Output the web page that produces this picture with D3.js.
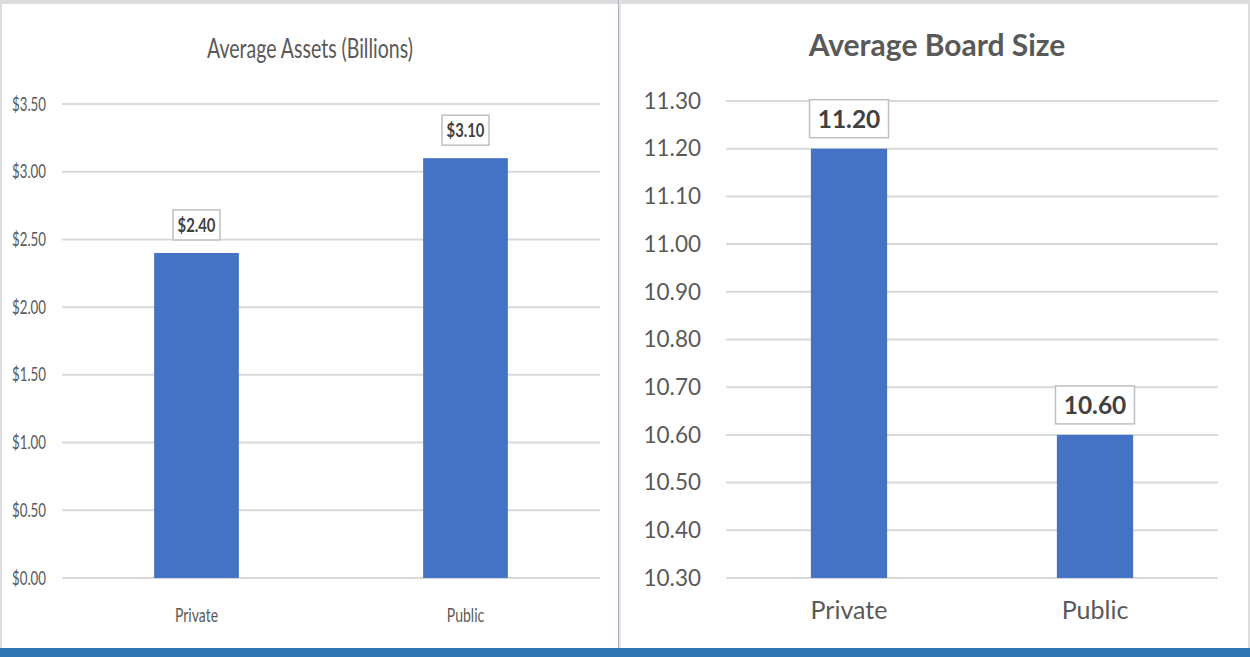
<!DOCTYPE html>
<html>
<head>
<meta charset="utf-8">
<script src="https://cdn.jsdelivr.net/npm/d3@7"></script>
<style>
  body { margin: 0; background: #fff; }
  svg { display: block; }
</style>
</head>
<body>
<div id="chart"></div>
<script>
// data
var categories = ["Private", "Public"];
var assetValues = [2.40, 3.10];
var assetTicks = [0, 0.5, 1.0, 1.5, 2.0, 2.5, 3.0, 3.5];
var boardValues = [11.20, 10.60];
var boardTicks = [10.3, 10.4, 10.5, 10.6, 10.7, 10.8, 10.9, 11.0, 11.1, 11.2, 11.3];

var W = 1250, H = 657;
var svg = d3.select("#chart").append("svg")
    .attr("width", W)
    .attr("height", H);

// frame
svg.append("rect").attr("x", 0).attr("y", 0).attr("width", W).attr("height", 4).attr("fill", "#dcdcdc");
svg.append("rect").attr("x", 0).attr("y", 0).attr("width", 2).attr("height", H).attr("fill", "#dcdcdc");
svg.append("rect").attr("x", W - 2).attr("y", 0).attr("width", 2).attr("height", H).attr("fill", "#dcdcdc");
svg.append("rect").attr("x", 618).attr("y", 0).attr("width", 1).attr("height", 650).attr("fill", "#a9b4c4");
svg.append("rect").attr("x", 619).attr("y", 0).attr("width", 2).attr("height", 650).attr("fill", "#e4e4e4");
svg.append("rect").attr("x", 0).attr("y", 648).attr("width", W).attr("height", 9).attr("fill", "#2e75b6");

// squeeze text horizontally (the original uses a condensed face)
function squeeze(sel, k) {
  if (!k || k === 1) return;
  sel.each(function(){
    var w = this.getComputedTextLength();
    d3.select(this).attr("textLength", w * k).attr("lengthAdjust", "spacingAndGlyphs");
  });
}

function drawChart(opt) {
  var g = svg.append("g");

  var y = d3.scaleLinear().domain(opt.domain).range([opt.bottom, opt.top]);
  var x = d3.scaleBand().domain(categories).range([opt.left, opt.right])
      .paddingInner(opt.pad).paddingOuter(opt.pad / 2);

  // gridlines
  g.selectAll(".grid").data(opt.ticks).enter().append("line")
    .attr("x1", opt.left).attr("x2", opt.right)
    .attr("y1", function(d){ return y(d); })
    .attr("y2", function(d){ return y(d); })
    .attr("stroke", "#d9d9d9")
    .attr("stroke-width", 2);

  // y axis labels
  var yAxis = d3.axisLeft(y).tickValues(opt.ticks).tickFormat(opt.tickFmt).tickSize(0).tickPadding(opt.tickPad);
  var ya = g.append("g").attr("transform", "translate(" + opt.left + ",0)").call(yAxis);
  ya.select(".domain").remove();
  ya.selectAll("text")
    .attr("fill", "#595959")
    .style("font-family", opt.font)
    .style("font-size", opt.tickSize + "px")
    .call(squeeze, opt.tickSq);

  // x axis labels
  var xAxis = d3.axisBottom(x).tickSize(0).tickPadding(opt.xPad);
  var xa = g.append("g").attr("transform", "translate(0," + opt.bottom + ")").call(xAxis);
  xa.select(".domain").remove();
  xa.selectAll("text")
    .attr("fill", "#595959")
    .style("font-family", opt.font)
    .style("font-size", opt.xSize + "px")
    .call(squeeze, opt.tickSq);

  // bars
  g.selectAll(".bar").data(opt.values).enter().append("rect")
    .attr("x", function(d, i){ return x(categories[i]); })
    .attr("y", function(d){ return y(d); })
    .attr("width", x.bandwidth())
    .attr("height", function(d){ return opt.bottom - y(d); })
    .attr("fill", "#4472c4");

  // data labels with boxes
  var lab = g.selectAll(".lab").data(opt.values).enter().append("g")
    .attr("transform", function(d, i){
      return "translate(" + (x(categories[i]) + x.bandwidth() / 2) + "," + (y(d) - opt.labGap) + ")";
    });
  lab.append("rect")
    .attr("x", -opt.boxW / 2).attr("y", -opt.boxH)
    .attr("width", opt.boxW).attr("height", opt.boxH)
    .attr("fill", "#fff")
    .attr("stroke", "#bfbfbf")
    .attr("stroke-width", 1.5);
  lab.append("text")
    .attr("text-anchor", "middle")
    .attr("y", -opt.boxH / 2)
    .attr("dy", "0.36em")
    .attr("fill", "#404040")
    .style("font-family", opt.font)
    .style("font-weight", "bold")
    .style("font-size", opt.labSize + "px")
    .text(opt.labFmt)
    .call(squeeze, opt.labSq);

  // title
  g.append("text")
    .attr("x", opt.titleX).attr("y", opt.titleY)
    .attr("text-anchor", "middle")
    .attr("fill", "#595959")
    .style("font-family", opt.font)
    .style("font-weight", opt.titleWeight)
    .style("font-size", opt.titleSize + "px")
    .text(opt.title)
    .call(squeeze, opt.titleSq);
}

// left: average assets
drawChart({
  values: assetValues, ticks: assetTicks, domain: [0, 3.5],
  left: 62, right: 600, top: 104, bottom: 578, pad: 0.685,
  tickFmt: function(d){ return "$" + d.toFixed(2); }, tickPad: 16, xPad: 30,
  font: "Lato, 'Open Sans', sans-serif", tickSize: 19, xSize: 20, tickSq: 0.7,
  labFmt: function(d){ return "$" + d.toFixed(2); }, labSize: 19, labSq: 0.78, boxW: 47, boxH: 30, labGap: 13,
  title: "Average Assets (Billions)", titleX: 310, titleY: 58, titleSize: 26, titleSq: 0.75, titleWeight: "normal"
});

// right: average board size
drawChart({
  values: boardValues, ticks: boardTicks, domain: [10.3, 11.3],
  left: 726, right: 1218, top: 101, bottom: 578, pad: 0.69,
  tickFmt: function(d){ return d.toFixed(2); }, tickPad: 25, xPad: 23,
  font: "Lato, 'Open Sans', sans-serif", tickSize: 22.5, xSize: 25, tickSq: 1,
  labFmt: function(d){ return d.toFixed(2); }, labSize: 24.5, labSq: 1, boxW: 79, boxH: 38, labGap: 11,
  title: "Average Board Size", titleX: 937, titleY: 56, titleSize: 30, titleSq: 1, titleWeight: "bold"
});
</script>
</body>
</html>
